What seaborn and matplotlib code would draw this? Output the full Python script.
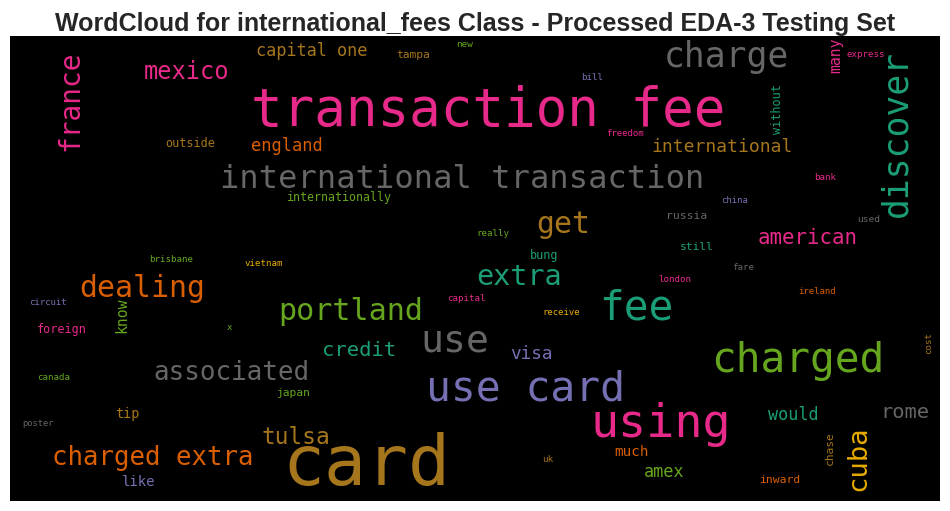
import matplotlib
matplotlib.use("Agg")
import matplotlib.pyplot as plt
import seaborn as sns

# ==================== Word cloud content ====================
# words, their glyph size (px on the 930x465 canvas), colour and placement
words = ["transaction fee", "card", "international transaction", "charge", "discover",
         "france", "mexico", "capital one", "tampa", "new", "many", "express", "bill",
         "without", "freedom", "outside", "england", "international", "bank",
         "internationally", "china", "russia", "used", "get", "american", "really",
         "still", "bung", "brisbane", "vietnam", "fare", "dealing", "extra", "london",
         "ireland", "circuit", "know", "capital", "portland", "fee", "receive", "foreign",
         "x", "use", "credit", "cost", "visa", "charged", "associated", "canada",
         "use card", "japan", "tip", "would", "rome", "poster", "using", "tulsa", "chase",
         "cuba", "much", "uk", "charged extra", "amex", "inward", "like"]

sizes_px = [52.6, 69.8, 32.2, 34.8, 34.6,
            27.9, 23.6, 16.9, 11.3, 9.4, 14.7, 9.2, 9.1,
            11.7, 9.0, 11.7, 17.0, 18.0, 9.1,
            11.6, 8.9, 11.4, 9.5, 29.9, 20.8, 9.1,
            11.3, 11.7, 9.1, 9.2, 9.1, 29.9, 28.5, 9.1,
            9.0, 9.0, 14.7, 9.2, 30.1, 41.1, 9.0, 11.7,
            9.0, 38.1, 20.5, 9.1, 17.8, 41.1, 25.9, 9.1,
            41.4, 11.3, 13.5, 16.8, 20.4, 8.8, 46.8, 22.7, 11.3,
            27.3, 14.3, 9.3, 25.8, 16.9, 11.4, 13.9]

colors = ["pink", "brown", "gray", "gray", "teal",
          "pink", "pink", "brown", "brown", "green", "pink", "pink", "purple",
          "teal", "pink", "brown", "orange", "brown", "pink",
          "green", "purple", "gray", "gray", "brown", "pink", "green",
          "teal", "teal", "green", "yellow", "gray", "orange", "teal", "pink",
          "orange", "purple", "green", "pink", "green", "teal", "yellow", "pink",
          "green", "gray", "teal", "brown", "purple", "green", "gray", "green",
          "purple", "green", "brown", "teal", "gray", "gray", "pink", "brown", "brown",
          "yellow", "orange", "brown", "orange", "green", "orange", "purple"]

pos_x = [478, 356.5, 452.5, 716, 896.7,
         68, 176.5, 302, 403.5, 455, 830, 856, 582.5,
         771, 614.5, 180, 277, 712.5, 815.5,
         329, 725, 677, 859, 553.5, 798, 483,
         686.5, 534.5, 161.5, 254, 733.5, 132.5, 509.5, 665,
         807.5, 37.5, 116.7, 456, 341, 626, 551.5, 52,
         219, 444.5, 349, 920.7, 521.5, 787.5, 221.5, 44,
         515.5, 282.5, 117.5, 783.5, 894.5, 27.5, 651, 286, 823.3,
         855, 621.5, 538, 142.5, 654.5, 770, 129]

pos_y = [90, 449, 152, 30.7, 97.5,
         65, 43.3, 20, 22, 11, 19, 20.7, 44,
         73, 100, 111, 114.7, 115.7, 144,
         164.7, 167, 183, 186, 197, 208, 199.7,
         214, 223, 225.7, 230, 234, 260.7, 249, 246,
         258, 269, 279, 264.7, 284, 283.3, 279, 296.7,
         294, 315.7, 320, 306.5, 323, 335.7, 344, 344,
         364, 360, 382, 384, 382, 389.7, 400.7, 408, 412.5,
         422.5, 420, 425.7, 429, 441, 446.7, 450]

vertical = ["discover", "france", "many", "without", "know", "cost", "chase", "cuba"]

# ==================== Plot ====================
sns.set_theme(style="white")
plt.rcParams['font.family'] = ['Liberation Sans', 'DejaVu Sans']

dark2 = sns.color_palette("Dark2", 8)
palette = dict(zip(["teal", "orange", "purple", "pink", "green", "yellow", "brown", "gray"], dark2))

fig = plt.figure(figsize=(9.5, 5.11), dpi=100)
ax = fig.add_axes([10 / 950, 10 / 511, 930 / 950, 465 / 511])
ax.set_facecolor("black")
ax.set_xlim(0, 930)
ax.set_ylim(465, 0)
ax.set_xticks([])
ax.set_yticks([])
for s in ax.spines.values():
    s.set_visible(False)

for w, sz, c, x, y in zip(words, sizes_px, colors, pos_x, pos_y):
    rot = 90 if w in vertical else 0
    ax.text(x, y, w, fontsize=sz * 0.72, color=palette[c], family="DejaVu Sans Mono",
            rotation=rot, rotation_mode="anchor", ha="center", va="baseline")

ax.set_title("WordCloud for international_fees Class - Processed EDA-3 Testing Set",
             fontsize=18, fontweight="bold", color=".15", pad=3)

fig.savefig("out.png", dpi=100)
